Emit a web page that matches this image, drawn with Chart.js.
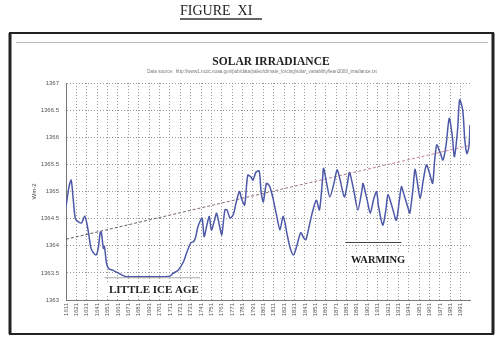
<!DOCTYPE html>
<html>
<head>
<meta charset="utf-8">
<script src="https://cdn.jsdelivr.net/npm/chart.js@4"></script>
<style>
  html, body { margin: 0; padding: 0; background: #fff; }
  canvas { display: block; }
</style>
</head>
<body>
<canvas id="SolarChart" width="500" height="347"></canvas>
<script>
// values (year, W/m2)
let years = [
  1611, 1614, 1616, 1618, 1620, 1623, 1626, 1629, 1631, 1633, 1635, 1637, 1640, 1642, 1644, 1645,
  1647, 1648, 1650, 1652, 1656, 1661, 1666, 1669, 1680, 1690, 1700, 1711, 1714, 1719, 1724, 1727,
  1731, 1734, 1736, 1738, 1742, 1744, 1747, 1749, 1751, 1754, 1756, 1759, 1761, 1764, 1766, 1769,
  1772, 1775, 1778, 1780, 1783, 1786, 1789, 1791, 1794, 1797, 1799, 1801, 1804, 1807, 1810, 1812,
  1814, 1817, 1820, 1822, 1824, 1827, 1830, 1833, 1837, 1840, 1842, 1845, 1848, 1852, 1855, 1858,
  1859, 1862, 1865, 1869, 1872, 1875, 1879, 1882, 1884, 1888, 1892, 1896, 1897, 1901, 1904, 1907,
  1910, 1912, 1916, 1919, 1921, 1925, 1929, 1932, 1934, 1936, 1940, 1942, 1945, 1947, 1949, 1952,
  1955, 1958, 1961, 1964, 1966, 1968, 1971, 1974, 1977, 1980, 1983, 1985, 1988, 1990, 1993, 1995,
  1997, 1999, 2000,
];
let irradiance = [
  1364.72, 1365.1, 1365.21, 1364.85, 1364.5, 1364.44, 1364.42, 1364.55, 1364.42, 1364.2, 1363.96, 1363.88, 1363.83, 1363.95, 1364.25, 1364.25,
  1363.95, 1363.99, 1363.68, 1363.58, 1363.55, 1363.5, 1363.45, 1363.43, 1363.43, 1363.43, 1363.43, 1363.44, 1363.49, 1363.55, 1363.7, 1363.86,
  1364.05, 1364.08, 1364.17, 1364.35, 1364.51, 1364.17, 1364.41, 1364.54, 1364.29, 1364.47, 1364.6, 1364.35, 1364.2, 1364.66, 1364.66, 1364.51,
  1364.57, 1364.81, 1365.0, 1364.87, 1364.75, 1365.3, 1365.27, 1365.21, 1365.36, 1365.38, 1364.97, 1364.81, 1365.15, 1365.1, 1364.9, 1364.72,
  1364.54, 1364.29, 1364.54, 1364.41, 1364.2, 1363.95, 1363.83, 1363.98, 1364.24, 1364.14, 1364.11, 1364.35, 1364.6, 1364.84, 1364.66, 1365.21,
  1365.43, 1365.15, 1364.9, 1365.15, 1365.4, 1365.21, 1364.9, 1365.15, 1365.35, 1365.03, 1364.66, 1365.03, 1365.15, 1364.84, 1364.6, 1364.84,
  1365.0, 1364.72, 1364.38, 1364.66, 1364.94, 1364.72, 1364.47, 1364.84, 1365.09, 1364.97, 1364.72, 1364.6, 1365.03, 1365.41, 1365.21, 1364.87,
  1365.21, 1365.49, 1365.34, 1365.15, 1365.58, 1365.86, 1365.73, 1365.58, 1365.86, 1366.35, 1366.01, 1365.64, 1366.13, 1366.69, 1366.5, 1365.95,
  1365.7, 1365.83, 1366.23,
];

// dashed trend line, end points only
let trendYears = [1611, 2000];
let trendValues = [1364.12, 1365.85];

let xTickYears = [
  1611, 1621, 1631, 1641, 1651, 1661, 1671, 1681, 1691, 1701, 1711, 1721, 1731,
  1741, 1751, 1761, 1771, 1781, 1791, 1801, 1811, 1821, 1831, 1841, 1851, 1861,
  1871, 1881, 1891, 1901, 1911, 1921, 1931, 1941, 1951, 1961, 1971, 1981, 1991,
];

// annotation marks (year, value)
let iceAgeLine = { from: 1648, to: 1740, y: 1363.41 };
let warmingLine = { from: 1880, to: 1934, y: 1364.06 };

const serif = '"Liberation Serif", "DejaVu Serif", serif';
const sans = '"Liberation Sans", Arial, sans-serif';

let decor = {
  id: "decor",
  beforeDraw(chart) {
    const ctx = chart.ctx;
    ctx.save();
    ctx.setLineDash([]);
    ctx.fillStyle = "#fff";
    ctx.fillRect(0, 0, chart.width, chart.height);

    // figure heading
    ctx.fillStyle = "#222";
    ctx.font = "14px " + serif;
    ctx.textBaseline = "alphabetic";
    ctx.fillText("FIGURE  XI", 180, 15);
    ctx.strokeStyle = "#333";
    ctx.lineWidth = 1.5;
    ctx.beginPath();
    ctx.moveTo(180, 19);
    ctx.lineTo(262, 19);
    ctx.stroke();

    // frame
    ctx.strokeStyle = "#222";
    ctx.lineWidth = 2;
    ctx.strokeRect(10, 33, 483, 301);
    ctx.lineWidth = 3;
    ctx.beginPath();
    ctx.moveTo(10, 33);
    ctx.lineTo(10, 334);
    ctx.moveTo(493, 33);
    ctx.lineTo(493, 334);
    ctx.stroke();
    ctx.strokeStyle = "#bbb";
    ctx.lineWidth = 1;
    ctx.beginPath();
    ctx.moveTo(16, 42.5);
    ctx.lineTo(488, 42.5);
    ctx.stroke();

    // titles
    ctx.textAlign = "center";
    ctx.fillStyle = "#222";
    ctx.font = "bold 11.5px " + serif;
    ctx.fillText("SOLAR IRRADIANCE", 271, 65);
    ctx.fillStyle = "#777";
    ctx.font = "4.6px " + sans;
    ctx.fillText(
      "Data source:  http://www1.ncdc.noaa.gov/pub/data/paleo/climate_forcing/solar_variability/lean2000_irradiance.txt",
      262,
      73
    );
    ctx.restore();
  },
  afterDraw(chart) {
    const ctx = chart.ctx;
    const x = chart.scales.x;
    const y = chart.scales.y;
    ctx.save();
    ctx.setLineDash([]);
    ctx.fillStyle = "#fff";
    ctx.fillRect(105, 283, 90, 13);
    ctx.fillRect(348, 253, 62, 13);

    ctx.lineWidth = 1;
    ctx.strokeStyle = "#aaa";
    ctx.beginPath();
    ctx.moveTo(x.getPixelForValue(iceAgeLine.from), y.getPixelForValue(iceAgeLine.y));
    ctx.lineTo(x.getPixelForValue(iceAgeLine.to), y.getPixelForValue(iceAgeLine.y));
    ctx.stroke();
    ctx.strokeStyle = "#444";
    ctx.lineWidth = 1.2;
    ctx.beginPath();
    ctx.moveTo(x.getPixelForValue(warmingLine.from), y.getPixelForValue(warmingLine.y));
    ctx.lineTo(x.getPixelForValue(warmingLine.to), y.getPixelForValue(warmingLine.y));
    ctx.stroke();

    ctx.fillStyle = "#222";
    ctx.font = "bold 11px " + serif;
    ctx.fillText("LITTLE ICE AGE", 109, 293);
    ctx.font = "bold 10.5px " + serif;
    ctx.fillText("WARMING", 351, 263);
    ctx.restore();
  },
};

function trendColor(context) {
  const area = context.chart.chartArea;
  if (!area) return "#777";
  const g = context.chart.ctx.createLinearGradient(area.left, 0, area.right, 0);
  g.addColorStop(0, "#555");
  g.addColorStop(0.45, "#8a6a7a");
  g.addColorStop(1, "#d98a9a");
  return g;
}

const ctx = document.getElementById("SolarChart");

new Chart(ctx, {
  type: "line",
  data: {
    datasets: [
      {
        label: "Solar irradiance",
        data: years.map((yr, i) => ({ x: yr, y: irradiance[i] })),
        borderColor: "#4d58a8",
        borderWidth: 1.5,
        pointRadius: 0,
        tension: 0.25,
        fill: false,
      },
      {
        label: "Trend",
        data: trendYears.map((yr, i) => ({ x: yr, y: trendValues[i] })),
        borderColor: trendColor,
        borderWidth: 1,
        borderDash: [3, 2],
        pointRadius: 0,
        fill: false,
      },
    ],
  },
  options: {
    responsive: false,
    animation: false,
    layout: { padding: { top: 83, right: 30, left: 0, bottom: 0 } },
    plugins: {
      legend: { display: false },
      tooltip: { enabled: false },
    },
    scales: {
      x: {
        type: "linear",
        min: 1611,
        max: 2000,
        afterBuildTicks: (axis) => {
          axis.ticks = xTickYears.map((v) => ({ value: v }));
        },
        afterFit: (s) => {
          s.height = 47;
        },
        ticks: {
          autoSkip: false,
          maxRotation: 90,
          minRotation: 90,
          padding: 3,
          color: "#555",
          font: { size: 6, family: sans },
          callback: (v) => String(v),
        },
        grid: { color: "#999", lineWidth: 1, drawTicks: false },
        border: { display: true, color: "#777", width: 1, dash: [1, 2] },
      },
      y: {
        min: 1363,
        max: 1367,
        afterFit: (s) => {
          s.width = 66;
        },
        ticks: {
          stepSize: 0.5,
          padding: 7,
          color: "#555",
          font: { size: 6, family: sans },
          callback: (v) => String(v),
        },
        title: {
          display: true,
          text: "Wm-2",
          color: "#444",
          font: { size: 6, family: sans },
          padding: { top: 31, bottom: 0 },
        },
        grid: { color: "#999", lineWidth: 1, drawTicks: false },
        border: { display: true, color: "#777", width: 1, dash: [1, 2] },
      },
    },
  },
  plugins: [decor],
});
</script>
</body>
</html>
